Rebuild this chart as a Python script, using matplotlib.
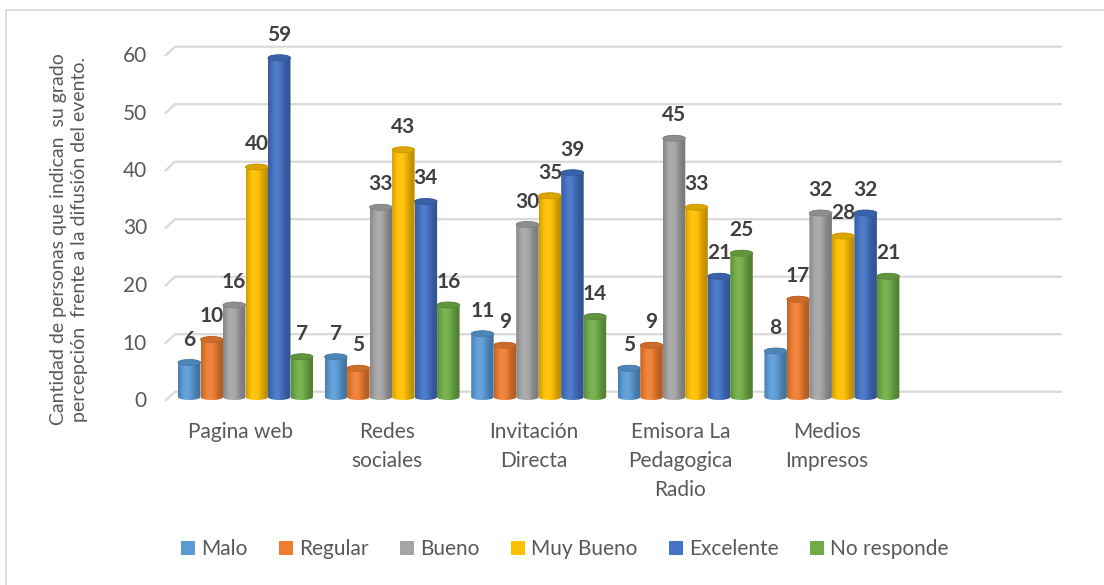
import numpy as np
import matplotlib
matplotlib.use('Agg')
import matplotlib.pyplot as plt
from matplotlib.colors import to_rgb
from matplotlib.patches import Ellipse, Polygon, Patch, Rectangle

plt.rcParams['font.family'] = ['Lato', 'DejaVu Sans']

categories = ['Pagina web', 'Redes\nsociales', 'Invitación\nDirecta',
              'Emisora La\nPedagogica\nRadio', 'Medios\nImpresos']
series = ['Malo', 'Regular', 'Bueno', 'Muy Bueno', 'Excelente', 'No responde']
malo = [6, 7, 11, 5, 8]
regular = [10, 5, 9, 9, 17]
bueno = [16, 33, 30, 45, 32]
muy_bueno = [40, 43, 35, 33, 28]
excelente = [59, 34, 39, 21, 32]
no_responde = [7, 16, 14, 25, 21]
values = [malo, regular, bueno, muy_bueno, excelente, no_responde]
colors = ['#5B9BD5', '#ED7D31', '#A5A5A5', '#FFC000', '#4472C4', '#70AD47']
yticks = [0, 10, 20, 30, 40, 50, 60]

W, H = 1104, 585
# pixel layout of the plot (category 0 centre, slot width, value 0, px per unit)
X0, SLOT, Y0, UNIT = 245.5, 146.6, 397.0, 5.75
def px_x(p):
    return (p - X0) / SLOT
def px_y(p):
    return (Y0 - p) / UNIT

fig = plt.figure(figsize=(W / 100, H / 100), dpi=100)
L, R, T, B = 150, 1075, 30, 425
ax = fig.add_axes([L / W, 1 - B / H, (R - L) / W, (B - T) / H])
ax.axis('off')

TXT = '#595959'

# back-wall gridlines with a short slanted floor segment
x_front, x_back, x_end = px_x(165), px_x(175), px_x(1062)
back_dy = 5.3 / UNIT
front_dy = -4.0 / UNIT
for v in yticks:
    ax.plot([x_front, x_back, x_end], [v + front_dy, v + back_dy, v + back_dy],
            color='#D9D9D9', lw=1.6, zorder=1, solid_capstyle='butt')
    ax.text(px_x(147), v + front_dy, str(v), ha='right', va='center',
            fontsize=15, color=TXT)


def shade(c, k):
    rgb = np.array(to_rgb(c))
    if k <= 1:
        return rgb * k
    return rgb + (1 - rgb) * (k - 1)


s = np.linspace(0, 1, 64)
prof = 0.72 + 0.36 * np.exp(-((s - 0.38) / 0.34) ** 2)

bw = 22.5 / SLOT
eh = 6.0 / UNIT
t = np.linspace(0, np.pi, 30)
for j, (vals, c) in enumerate(zip(values, colors)):
    grad = np.array([[shade(c, k) for k in prof]])
    cap = shade(c, 0.86)
    for i, v in enumerate(vals):
        cx = i + (j - 2.5) * bw
        x0, x1 = cx - bw / 2, cx + bw / 2
        bottom = np.column_stack([cx - bw / 2 * np.cos(t), -eh / 2 * np.sin(t)])
        top = np.column_stack([cx + bw / 2 * np.cos(t), v + eh / 2 * np.sin(t)])
        poly = Polygon(np.vstack([bottom, top]), closed=True, facecolor='none',
                       edgecolor='none', transform=ax.transData)
        ax.add_patch(poly)
        im = ax.imshow(grad, extent=[x0, x1, -eh / 2, v + eh / 2], aspect='auto',
                       interpolation='bilinear', zorder=3 + i * 0.1)
        im.set_clip_path(poly)
        ax.add_patch(Ellipse((cx, v), bw, eh, facecolor=cap,
                             edgecolor=shade(c, 0.78), lw=0.6, zorder=3.05 + i * 0.1))
        ax.text(cx, v + 4.0, str(v), ha='center', va='center', fontsize=15,
                fontweight='bold', color='#404040', zorder=10)

for i, lab in enumerate(categories):
    ax.text(i - 5 / SLOT, px_y(422), lab, ha='center', va='top', fontsize=15,
            color=TXT, linespacing=1.55)

ax.set_xlim(px_x(L), px_x(R))
ax.set_ylim(px_y(B), px_y(T))

# axis title
fig.text(69 / W, 1 - 239 / H,
         'Cantidad de personas que indican  su grado\npercepción  frente a la difusión del evento.',
         rotation=90, ha='center', va='center', fontsize=14, color=TXT,
         linespacing=1.3)

handles = [Patch(facecolor=c, edgecolor='none', label=n) for n, c in zip(series, colors)]
fig.legend(handles=handles, loc='center', bbox_to_anchor=(565 / W, 1 - 549 / H),
           ncol=6, frameon=False, fontsize=15, handlelength=0.67, handleheight=0.67,
           handletextpad=0.3, columnspacing=1.5, labelcolor=TXT)

# chart area border (only top and left edges fall inside the picture)
fig.add_artist(Rectangle((6 / W, 1 - 600 / H), 1120 / W, 590 / H, transform=fig.transFigure,
                         facecolor='none', edgecolor='#D9D9D9', lw=1.2))

fig.savefig('out.png', dpi=100)
